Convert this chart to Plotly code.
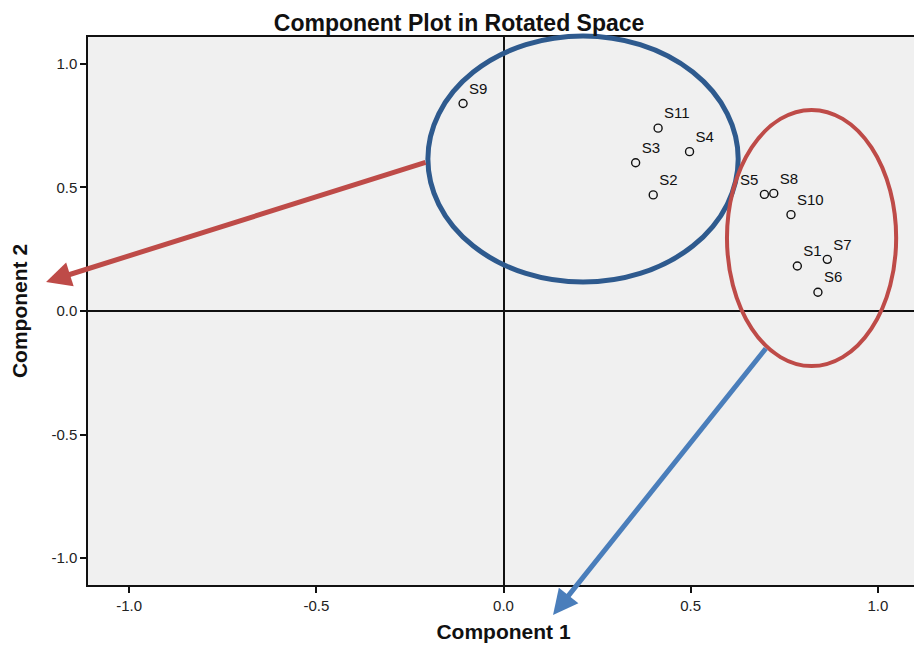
import plotly.graph_objects as go

# ---- data ----
labels = ["S1", "S2", "S3", "S4", "S5", "S6", "S7", "S8", "S9", "S10", "S11"]
component1 = [0.785, 0.400, 0.353, 0.497, 0.697, 0.840, 0.865, 0.722, -0.108, 0.768, 0.413]
component2 = [0.182, 0.470, 0.600, 0.645, 0.472, 0.076, 0.209, 0.476, 0.840, 0.390, 0.740]
label_pos = ["top right", "top right", "top right", "top right", "top left", "top right",
             "top right", "top right", "top right", "top right", "top right"]

x_ticks = [-1.0, -0.5, 0.0, 0.5, 1.0]
x_tick_text = ["-1.0", "-0.5", "0.0", "0.5", "1.0"]
y_ticks = [-1.0, -0.5, 0.0, 0.5, 1.0]
y_tick_text = ["-1.0", "-0.5", "0.0", "0.5", "1.0"]
x_range = [-1.11, 1.11]
y_range = [-1.109, 1.109]

FONT = "Liberation Sans, Arial, sans-serif"

def px(v):  # data x -> paper
    return (v - x_range[0]) / (x_range[1] - x_range[0])

def py(v):  # data y -> paper
    return (v - y_range[0]) / (y_range[1] - y_range[0])

fig = go.Figure()
fig.add_trace(go.Scatter(
    x=component1, y=component2, text=labels,
    mode="markers+text",
    marker=dict(symbol="circle-open", size=8, color="#111111",
                line=dict(width=1.4, color="#111111")),
    textposition=label_pos,
    textfont=dict(family=FONT, size=15, color="#111111"),
    cliponaxis=False, showlegend=False, hoverinfo="text",
))

# highlight ellipses (decoration)
fig.add_shape(type="circle", xref="paper", yref="paper",
              x0=px(-0.202), x1=px(0.627), y0=py(0.117), y1=py(1.113),
              line=dict(color="#2E5A8E", width=5), layer="above")
fig.add_shape(type="circle", xref="paper", yref="paper",
              x0=px(0.597), x1=px(1.049), y0=py(-0.223), y1=py(0.814),
              line=dict(color="#BE4B48", width=4), layer="above")

# arrows (decoration)
fig.add_annotation(xref="paper", yref="paper", x=-0.0505, y=0.553,
                   ax=381, ay=-120, showarrow=True, arrowhead=2,
                   arrowsize=1, arrowwidth=5, arrowcolor="#BE4B48", text="")
fig.add_annotation(xref="paper", yref="paper", x=0.5596, y=-0.0547,
                   ax=214, ay=-268, showarrow=True, arrowhead=2,
                   arrowsize=1, arrowwidth=5, arrowcolor="#4A7EBB", text="")

axis_common = dict(
    showgrid=False, zeroline=True, zerolinecolor="#111111", zerolinewidth=1.5,
    showline=True, linecolor="#111111", linewidth=1.5, mirror=True,
    ticks="outside", ticklen=6, tickwidth=1.5, tickcolor="#111111",
    tickfont=dict(family=FONT, size=15, color="#222222"),
    automargin=False,
)

fig.update_layout(
    width=914, height=635,
    margin=dict(l=80, r=3, t=29, b=58),
    paper_bgcolor="white", plot_bgcolor="#F0F0F0",
    title=dict(text="<b>Component Plot in Rotated Space</b>", x=0.4935, xanchor="center",
               y=0.976, yanchor="middle", yref="container",
               font=dict(family=FONT, size=23, color="#111111")),
    xaxis=dict(range=x_range, tickvals=x_ticks, ticktext=x_tick_text,
               title=dict(text="<b>Component 1</b>", standoff=19,
                          font=dict(family=FONT, size=21, color="#111111")),
               **axis_common),
    yaxis=dict(range=y_range, tickvals=y_ticks, ticktext=y_tick_text,
               title=dict(text="<b>Component 2</b>", standoff=18,
                          font=dict(family=FONT, size=21, color="#111111")),
               **axis_common),
)

fig.write_html("out.html")
